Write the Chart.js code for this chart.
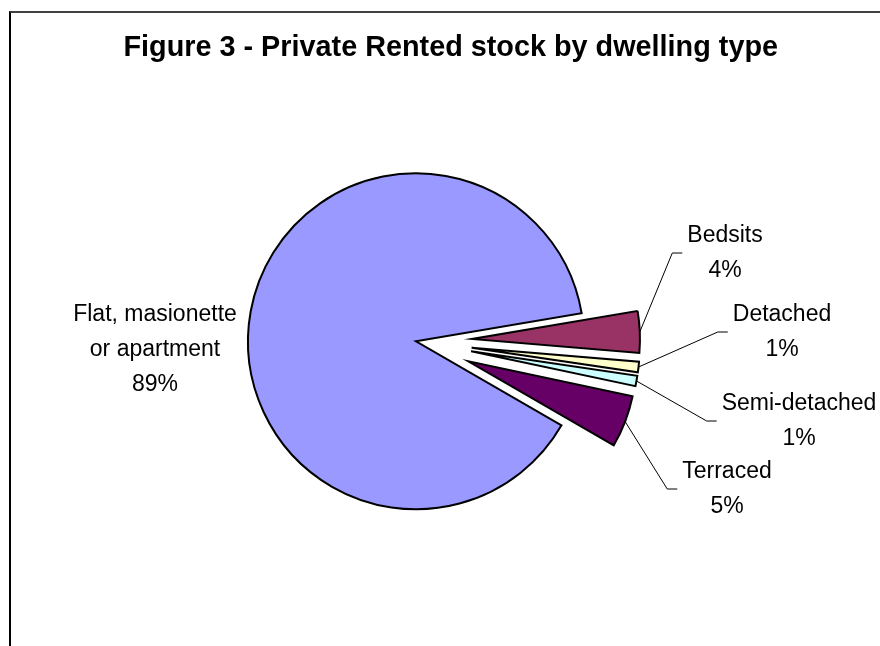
<!DOCTYPE html>
<html>
<head>
<meta charset="utf-8">
<title>Private Rented stock by dwelling type</title>
<script src="https://cdn.jsdelivr.net/npm/chart.js@4/dist/chart.umd.min.js"></script>
<style>
  html, body { margin: 0; padding: 0; background: #ffffff; overflow: hidden; }
  #wrap { position: relative; width: 880px; height: 646px; }
  #chart { position: absolute; left: 0; top: 0; }
  #frame {
    position: absolute; left: 9px; top: 11px; width: 920px; height: 700px;
    border-top: 2px solid #404040; border-left: 2px solid #000000;
    pointer-events: none;
  }
</style>
</head>
<body>
<div id="wrap">
  <canvas id="chart" width="880" height="646"></canvas>
  <div id="frame"></div>
</div>
<script>
// Dwelling types (multi-line names are given as arrays of lines)
const categories = [
  ['Flat, masionette', 'or apartment'],
  'Bedsits',
  'Detached',
  'Semi-detached',
  'Terraced'
];
// Share of private rented stock, per cent
const shares = [89, 4, 1, 1, 5];

const chartTitle = 'Figure 3 - Private Rented stock by dwelling type';

const sliceColours = ['#9999FF', '#993366', '#FFFFCC', '#CCFFFF', '#660066'];
const explodeBy = [0, 56, 56, 56, 56];

const FONT = '"Liberation Sans", Arial, Helvetica, sans-serif';

// Pull individual slices outwards along their bisector, keeping their size
const explodePlugin = {
  id: 'explodeSlices',
  afterDatasetUpdate(chart, args, opts) {
    const dist = opts.distances || [];
    args.meta.data.forEach((arc, i) => {
      const d = dist[i] || 0;
      if (!d) return;
      const mid = (arc.startAngle + arc.endAngle) / 2;
      arc.x += Math.cos(mid) * d;
      arc.y += Math.sin(mid) * d;
    });
  }
};

// Category name + percentage labels, with elbow leader lines
const sliceLabelPlugin = {
  id: 'sliceLabels',
  afterDatasetsDraw(chart, args, opts) {
    const ctx = chart.ctx;
    const meta = chart.getDatasetMeta(0);
    const values = chart.data.datasets[0].data;
    const lineGap = opts.lineHeight;
    ctx.save();
    ctx.font = opts.size + 'px ' + FONT;
    ctx.fillStyle = '#000';
    ctx.strokeStyle = '#000';
    ctx.lineWidth = 1;
    ctx.textAlign = 'center';
    ctx.textBaseline = 'middle';
    meta.data.forEach((arc, i) => {
      const place = opts.placement[i];
      if (!place) return;
      const name = chart.data.labels[i];
      const lines = (Array.isArray(name) ? name.slice() : [name]);
      lines.push(values[i] + '%');
      const widest = Math.max(...lines.map(l => ctx.measureText(l).width));
      const top = place.cy - (lines.length - 1) * lineGap / 2;
      lines.forEach((l, k) => ctx.fillText(l, place.cx, top + k * lineGap));
      if (place.leader) {
        const p = arc.getProps(['x', 'y', 'startAngle', 'endAngle', 'outerRadius'], true);
        const mid = (p.startAngle + p.endAngle) / 2;
        const ax = p.x + Math.cos(mid) * p.outerRadius;
        const ay = p.y + Math.sin(mid) * p.outerRadius;
        const endX = place.cx - widest / 2 - 5;
        ctx.beginPath();
        ctx.moveTo(ax, ay);
        ctx.lineTo(endX - 10, place.cy);
        ctx.lineTo(endX, place.cy);
        ctx.stroke();
      }
    });
    ctx.restore();
  }
};

new Chart(document.getElementById('chart'), {
  type: 'pie',
  data: {
    labels: categories,
    datasets: [{
      data: shares,
      backgroundColor: sliceColours,
      borderColor: '#000000',
      borderWidth: 2,
      borderJoinStyle: 'miter'
    }]
  },
  plugins: [explodePlugin, sliceLabelPlugin],
  options: {
    responsive: false,
    animation: false,
    events: [],
    rotation: 120,
    radius: 168,
    layout: { padding: { top: 21, bottom: 39, left: 54, right: 102 } },
    plugins: {
      legend: { display: false },
      tooltip: { enabled: false },
      title: {
        display: true,
        text: chartTitle,
        align: 'end',
        color: '#000000',
        font: { family: FONT, size: 28.8, weight: 'bold', lineHeight: 1.2 },
        padding: { top: 10, bottom: 10 }
      },
      explodeSlices: { distances: explodeBy },
      sliceLabels: {
        size: 23,
        lineHeight: 35,
        placement: [
          { cx: 155, cy: 350, leader: false },
          { cx: 725, cy: 253, leader: true },
          { cx: 782, cy: 332, leader: true },
          { cx: 799, cy: 421, leader: true },
          { cx: 727, cy: 489, leader: true }
        ]
      }
    }
  }
});
</script>
</body>
</html>
